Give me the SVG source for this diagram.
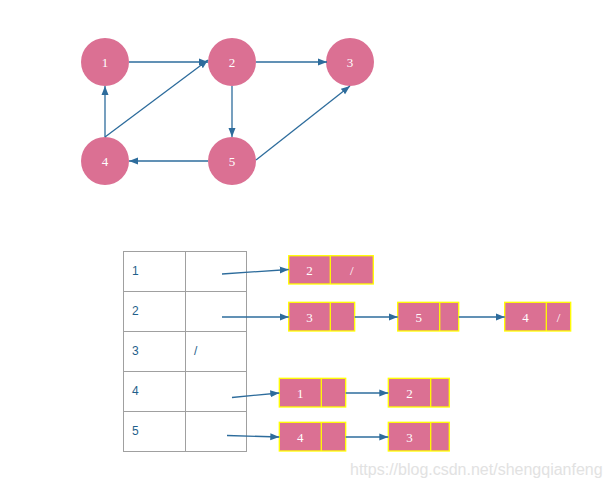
<svg xmlns="http://www.w3.org/2000/svg" width="608" height="488" viewBox="0 0 608 488">
<style>
.c{fill:#db7093}
.t{fill:#fff;font-family:"Liberation Serif",serif;font-size:13px;text-anchor:middle;dominant-baseline:central}
.e{stroke:#2d6c9c;stroke-width:1.3;fill:none;marker-end:url(#ah)}
.tb{fill:none;stroke:#a0a0a0;stroke-width:1}
.tt{fill:#1f5f8b;font-family:"Liberation Sans",sans-serif;font-size:12px;dominant-baseline:central}
.b{fill:#db7093;stroke:#ffff00;stroke-width:1.3}
.d{stroke:#ffff00;stroke-width:1.3}
</style>
<defs>
<marker id="ah" markerUnits="userSpaceOnUse" markerWidth="10" markerHeight="8" refX="9" refY="4" orient="auto">
<path d="M0,0.5 L9,4 L0,7.5 Z" fill="#2d6c9c"/>
</marker>
</defs>
<rect width="608" height="488" fill="#fff"/>
<g id="node1"><circle class="c" cx="105" cy="62" r="24"/><text class="t" x="105" y="62">1</text></g>
<g id="node2"><circle class="c" cx="232" cy="62" r="24"/><text class="t" x="232" y="62">2</text></g>
<g id="node3"><circle class="c" cx="350" cy="62" r="24"/><text class="t" x="350" y="62">3</text></g>
<g id="node4"><circle class="c" cx="105" cy="161" r="24"/><text class="t" x="105" y="161">4</text></g>
<g id="node5"><circle class="c" cx="232" cy="161" r="24"/><text class="t" x="232" y="161">5</text></g>
<g id="table">
<rect class="tb" x="123.5" y="251.5" width="123" height="200"/>
<line class="tb" x1="185.5" y1="251.5" x2="185.5" y2="451.5"/>
<line class="tb" x1="123.5" y1="291.5" x2="246.5" y2="291.5"/>
<line class="tb" x1="123.5" y1="331.5" x2="246.5" y2="331.5"/>
<line class="tb" x1="123.5" y1="371.5" x2="246.5" y2="371.5"/>
<line class="tb" x1="123.5" y1="411.5" x2="246.5" y2="411.5"/>
<text class="tt" x="132" y="271">1</text>
<text class="tt" x="132" y="311">2</text>
<text class="tt" x="132" y="351">3</text>
<text class="tt" x="132" y="391">4</text>
<text class="tt" x="132" y="431">5</text>
<text class="tt" x="194" y="351">/</text>
</g>
<g id="list1">
<rect class="b" x="288.7" y="255.7" width="84.6" height="28.3"/><line class="d" x1="330.3" y1="255.7" x2="330.3" y2="284"/>
<text class="t" x="309.5" y="270">2</text><text class="t" x="351.8" y="270">/</text>
</g>
<g id="list2">
<rect class="b" x="288.7" y="302.3" width="66" height="28.7"/><line class="d" x1="330.3" y1="302.3" x2="330.3" y2="331"/>
<text class="t" x="309.5" y="317">3</text>
<rect class="b" x="397.7" y="302.3" width="61" height="28.7"/><line class="d" x1="439.7" y1="302.3" x2="439.7" y2="331"/>
<text class="t" x="418.7" y="317">5</text>
<rect class="b" x="504.7" y="302.3" width="66" height="28.7"/><line class="d" x1="546.3" y1="302.3" x2="546.3" y2="331"/>
<text class="t" x="525.5" y="317">4</text><text class="t" x="558.5" y="317">/</text>
</g>
<g id="list4">
<rect class="b" x="279.3" y="378.3" width="66.4" height="28.7"/><line class="d" x1="321.3" y1="378.3" x2="321.3" y2="407"/>
<text class="t" x="300.3" y="393">1</text>
<rect class="b" x="388.3" y="378.3" width="61" height="28.7"/><line class="d" x1="430.7" y1="378.3" x2="430.7" y2="407"/>
<text class="t" x="409.5" y="393">2</text>
</g>
<g id="list5">
<rect class="b" x="279.3" y="422.3" width="66.4" height="28.7"/><line class="d" x1="321.3" y1="422.3" x2="321.3" y2="451"/>
<text class="t" x="300.3" y="437">4</text>
<rect class="b" x="388.3" y="422.3" width="61" height="28.7"/><line class="d" x1="430.7" y1="422.3" x2="430.7" y2="451"/>
<text class="t" x="409.5" y="437">3</text>
</g>
<g id="connectors">
<line class="e" x1="129" y1="62" x2="208" y2="62"/>
<line class="e" x1="256" y1="62" x2="327" y2="62"/>
<line class="e" x1="232" y1="86" x2="232" y2="137"/>
<line class="e" x1="208" y1="161" x2="129" y2="161"/>
<line class="e" x1="105" y1="137" x2="105" y2="86"/>
<line class="e" x1="105" y1="137" x2="208" y2="60" stroke-width="1"/>
<line class="e" x1="256" y1="160" x2="350" y2="86" stroke-width="1"/>
<line class="e" x1="222" y1="274" x2="288.7" y2="269.5"/>
<line class="e" x1="222" y1="317" x2="288.7" y2="317"/>
<line class="e" x1="354.7" y1="317" x2="397.7" y2="317"/>
<line class="e" x1="458.7" y1="317" x2="504.7" y2="317"/>
<line class="e" x1="232" y1="397.5" x2="279.3" y2="393"/>
<line class="e" x1="345.7" y1="393" x2="388.3" y2="393"/>
<line class="e" x1="227" y1="435.5" x2="279.3" y2="437"/>
<line class="e" x1="345.7" y1="437" x2="388.3" y2="437"/>
</g>
<text x="350" y="475" font-family="Liberation Sans,sans-serif" font-size="16" fill="#e2e2e2">https://blog.csdn.net/shengqianfeng</text>
</svg>
